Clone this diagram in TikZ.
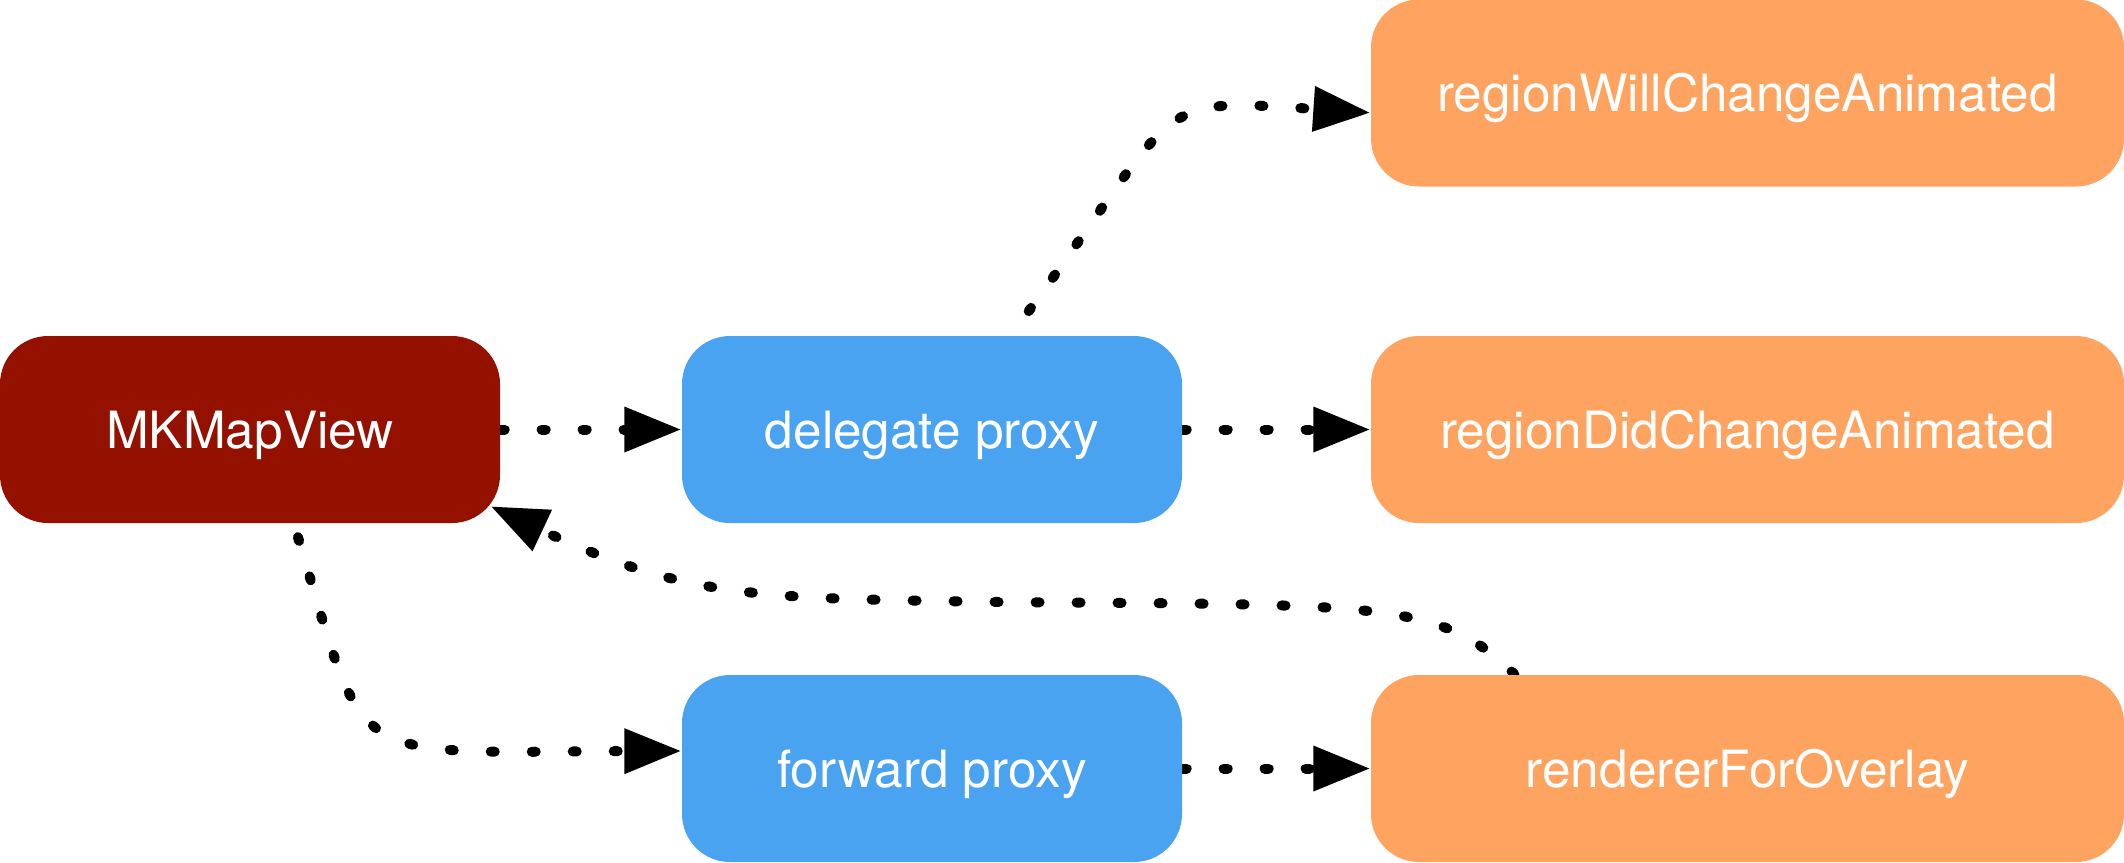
\documentclass[tikz,border=0pt]{standalone}
\usepackage{fontspec}
\usetikzlibrary{arrows.meta,backgrounds}
\newfontfamily\heros{TeX Gyre Heros}
\definecolor{mapRed}{RGB}{148,17,0}
\definecolor{proxyBlue}{RGB}{73,163,240}
\definecolor{methodOrange}{RGB}{255,164,96}
\begin{document}
\begin{tikzpicture}[x=0.3pt,y=-0.3pt,
    box/.style={rounded corners=14.4pt,minimum width=150pt,minimum height=56.1pt,inner sep=0pt,
        text=white,font=\heros\fontsize{15.4pt}{18pt}\selectfont,text height=11.1pt,text depth=0pt},
    wide/.style={box,minimum width=225.9pt,fill=methodOrange},
    link/.style={line width=3pt,line cap=round,dash pattern=on 1.2pt off 11.1pt,
        -{Triangle[length=17.1pt,width=12.9pt]}}]
\useasboundingbox (0,0) rectangle (2124,862);
\node[box,fill=mapRed] at (250,429.5)(mapView){MKMapView};
\node[box,fill=proxyBlue] at (932,429.5)(delegateProxy){delegate proxy};
\node[box,fill=proxyBlue] at (932,768.5)(forwardProxy){forward proxy};
\node[wide] at (1747.5,93)(willChange){regionWillChangeAnimated};
\node[wide] at (1747.5,429.5)(didChange){regionDidChangeAnimated};
\node[wide] at (1747.5,768.5)(renderer){rendererForOverlay};
\begin{scope}[on background layer]
\draw[link] (mapView) -- (delegateProxy);
\draw[link] (delegateProxy) -- (didChange);
\draw[link] (forwardProxy) -- (renderer);
\draw[link,shorten <=9pt] (delegateProxy.50) .. controls (1185,97) and (1150,98) .. (willChange.183);
\draw[link,shorten <=4.2pt] (mapView.-65) .. controls (368,770) and (340,752) .. (forwardProxy.176);
\draw[link,shorten >=-3.3pt] (renderer.158) .. controls (1440,600) and (1380,605) .. (1000,602)
    .. controls (760,598) and (690,600) .. (mapView.-18);
\end{scope}
\end{tikzpicture}
\end{document}
